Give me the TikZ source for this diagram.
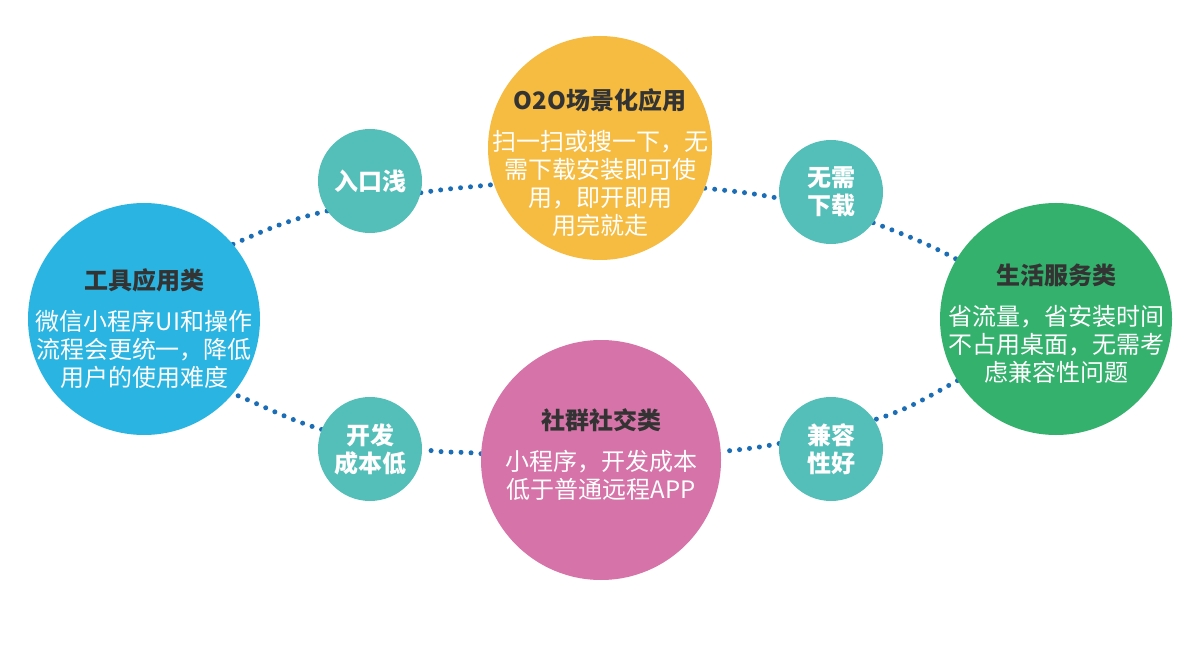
\documentclass[tikz,border=0pt]{standalone}
\usepackage{fontspec}
\setmainfont{Noto Sans CJK SC}
\usetikzlibrary{backgrounds}

\definecolor{toolblue}{HTML}{2AB4E2}
\definecolor{o2oorange}{HTML}{F5BC41}
\definecolor{lifegreen}{HTML}{34B16C}
\definecolor{socialpink}{HTML}{D673A8}
\definecolor{badgeteal}{HTML}{53BFB8}
\definecolor{dotblue}{HTML}{1B6DB5}
\definecolor{titlegray}{HTML}{333333}

\begin{document}
\begin{tikzpicture}[
        x=1pt, y=1pt,
        bubble/.style={circle, inner sep=0pt, draw=none},
        badge/.style={bubble, fill=badgeteal, minimum size=104pt, text=white,
            align=center, font=\fontsize{24}{28}\selectfont\bfseries},
        headline/.style={text=titlegray, font=\fontsize{24}{28}\selectfont\bfseries},
        bodytext/.style={text=white, align=center, font=\fontsize{24}{28}\selectfont},
        dotline/.style={draw=dotblue, line width=5pt, line cap=round,
            dash pattern=on 0pt off 10pt},
        ]
        \useasboundingbox (0,0) rectangle (1200,-647);

        % Big circles
        \node[bubble, fill=toolblue, minimum size=232pt] (tool) at (144,-319) {};
        \node[bubble, fill=o2oorange, minimum size=224pt] (o2o) at (600,-148) {};
        \node[bubble, fill=lifegreen, minimum size=232pt] (life) at (1056,-319) {};
        \node[bubble, fill=socialpink, minimum size=240pt] (social) at (601,-460) {};

        % Small circles
        \node[badge] (entry) at (370,-181) {入口浅};
        \node[badge] (download) at (831,-192) {无需\\下载};
        \node[badge] (cost) at (370,-449) {开发\\成本低};
        \node[badge] (compat) at (831,-449) {兼容\\性好};

        % Texts
        \node[headline] (tooltitle) at (144,-280) {工具应用类};
        \node[bodytext] (tooltext) at (144,-349) {微信小程序UI和操作\\流程会更统一，降低\\用户的使用难度};
        \node[headline] (o2otitle) at (600,-100) {O2O场景化应用};
        \node[bodytext] (o2otext) at (600,-183) {扫一扫或搜一下，无\\需下载安装即可使\\用，即开即用\\用完就走};
        \node[headline] (lifetitle) at (1056,-275) {生活服务类};
        \node[bodytext] (lifetext) at (1056,-344) {省流量，省安装时间\\不占用桌面，无需考\\虑兼容性问题};
        \node[headline] (socialtitle) at (601,-420) {社群社交类};
        \node[bodytext] (socialtext) at (601,-475) {小程序，开发成本\\低于普通远程APP};

        % Dotted ring
        \begin{scope}[on background layer]
            \fill[white] (0,0) rectangle (1200,-647);
            \draw[dotline] (tool.40) to[out=24, in=193] (entry.215);
            \draw[dotline] (entry.347) to[out=9, in=186] (o2o.199);
            \draw[dotline] (o2o.339) to[out=-6, in=169] (download.187);
            \draw[dotline] (download.324) to[out=-21, in=152] (life.149);
            \draw[dotline] (life.212) to[out=209, in=17] (compat.34);
            \draw[dotline] (compat.174) to[out=191, in=6] (social.4);
            \draw[dotline] (social.177) to[out=173, in=348] (cost.0);
            \draw[dotline] (cost.158) to[out=163, in=338] (tool.320);
        \end{scope}

    \end{tikzpicture}
\end{document}
